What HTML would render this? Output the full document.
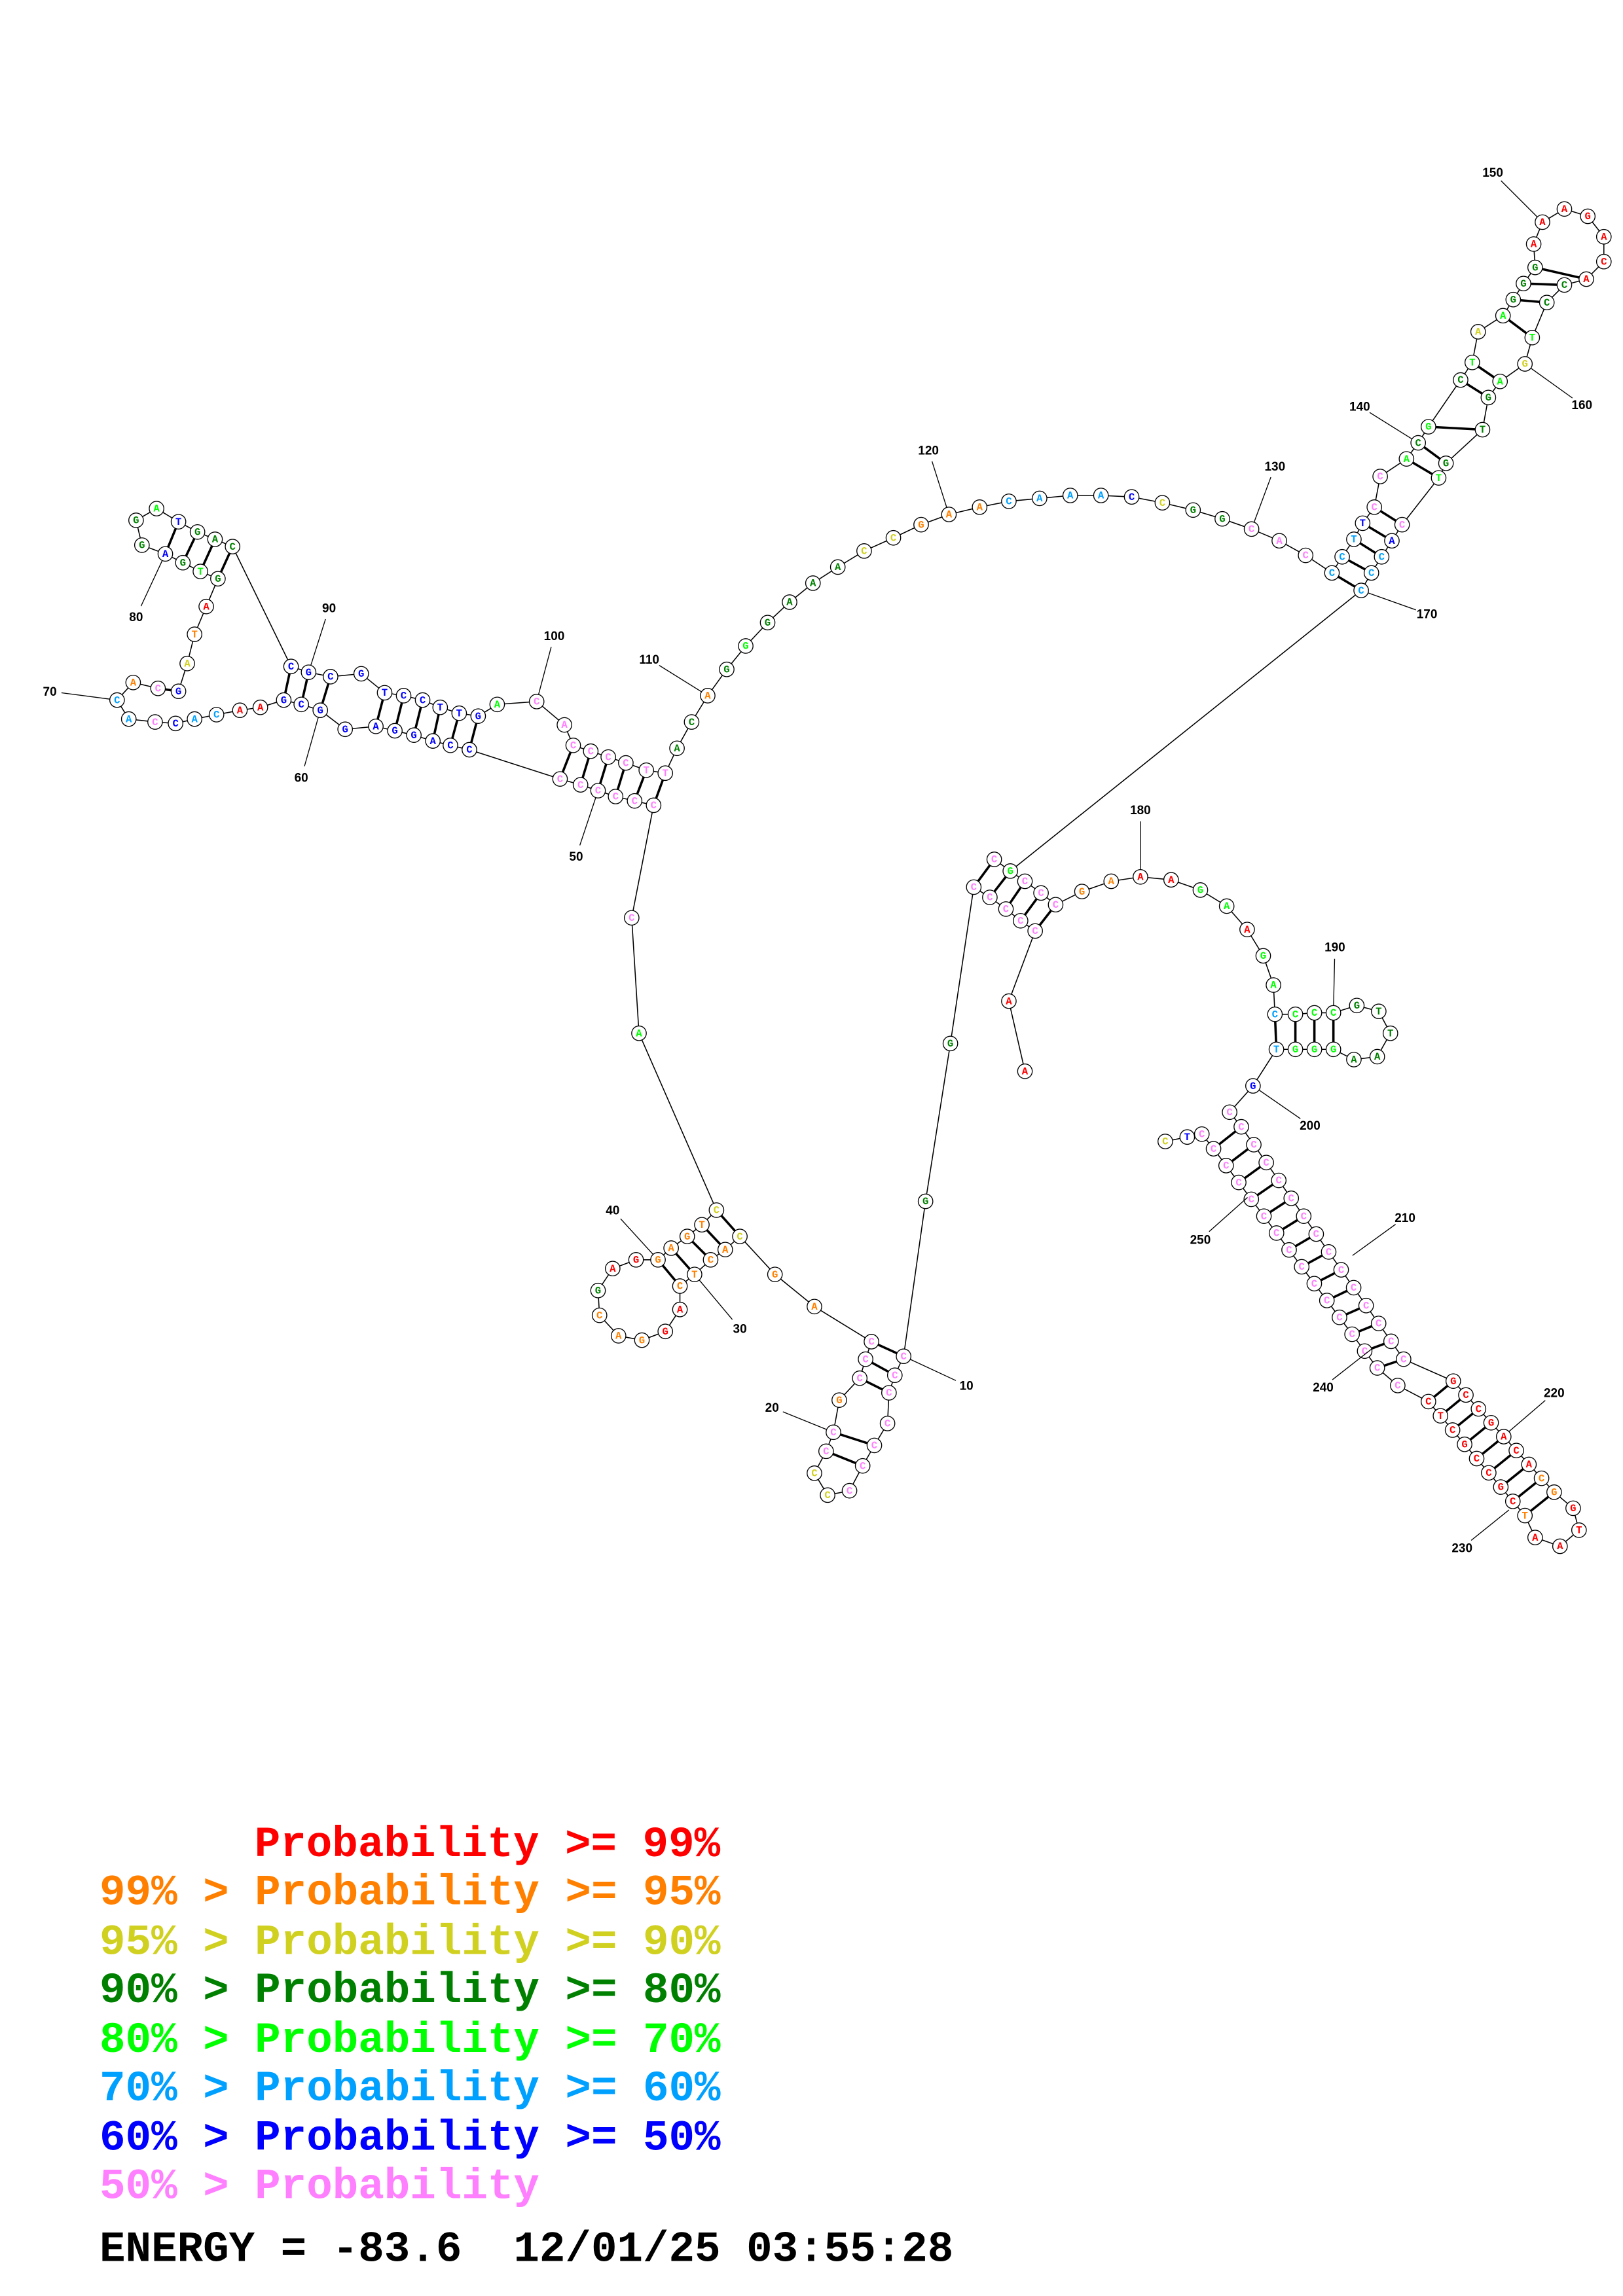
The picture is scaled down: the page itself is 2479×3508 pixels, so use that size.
<!DOCTYPE html>
<html><head><meta charset="utf-8">
<style>
html,body{margin:0;padding:0;background:#fff;}
svg{display:block;}
.n{font-family:"Liberation Mono",monospace;font-weight:bold;font-size:7px;text-anchor:middle;dominant-baseline:central;}
.l{font-family:"Liberation Sans",sans-serif;font-weight:bold;font-size:8.5px;text-anchor:middle;}
.g{font-family:"Liberation Mono",monospace;font-weight:bold;font-size:29.5px;white-space:pre;}
</style></head><body>
<svg id="s" width="2479" height="3508" viewBox="0 0 1110 1571" xmlns="http://www.w3.org/2000/svg">
<g id="bb" stroke="#000" stroke-width="0.7" fill="none"></g>
<g id="bp" stroke="#000" stroke-width="1.6"></g>
<g id="nd"></g>
<g id="lb" stroke="#000" stroke-width="0.6"></g>
<text class="g" x="174" y="1270" fill="#ff0000">Probability &gt;= 99%</text>
<text class="g" x="68" y="1303" fill="#ff8000">99% &gt; Probability &gt;= 95%</text>
<text class="g" x="68" y="1337" fill="#d0d020">95% &gt; Probability &gt;= 90%</text>
<text class="g" x="68" y="1370" fill="#008000">90% &gt; Probability &gt;= 80%</text>
<text class="g" x="68" y="1404" fill="#00ff00">80% &gt; Probability &gt;= 70%</text>
<text class="g" x="68" y="1437" fill="#00a0ff">70% &gt; Probability &gt;= 60%</text>
<text class="g" x="68" y="1471" fill="#0000ff">60% &gt; Probability &gt;= 50%</text>
<text class="g" x="68" y="1504" fill="#ff80ff">50% &gt; Probability</text>
<text class="g" x="68" y="1547" fill="#000" xml:space="preserve">ENERGY = -83.6  12/01/25 03:55:28</text>
</svg>
<script>
var C={r:"#ff0000",o:"#ff8000",y:"#d0d020",d:"#008000",g:"#00ff00",c:"#00a0ff",b:"#0000ff",p:"#ff80ff"};
var NS="http://www.w3.org/2000/svg";
function el(p,t,a,txt){var e=document.createElementNS(NS,t);for(var k in a)e.setAttribute(k,a[k]);if(txt)e.textContent=txt;document.getElementById(p).appendChild(e);return e;}
function lerp(a,b,n){var r=[];for(var i=0;i<n;i++){var t=n==1?0:i/(n-1);r.push([a[0]+(b[0]-a[0])*t,a[1]+(b[1]-a[1])*t]);}return r;}
var groups=[];
function G(pts){groups.push(pts);}
G([[701,733,"A","r"],[690,685,"A","r"],[708,637,"C","p"]]);
var s1L=[[666,607,"C","p"],[677,614,"C","p"],[688,622,"C","p"],[698,630,"C","p"],[708,637,"C","p"]];
var s1U=[[680,588,"C","p"],[691,596,"G","g"],[701,603,"C","p"],[712,611,"C","p"],[722,619,"C","p"]];
G(s1L.slice().reverse());G(s1U);G([[666,607,"C","p"],[680,588]]);
G([[722,619,"C","p"],[740,610,"G","o"],[760,603,"A","o"],[780,600,"A","r"],[801,602,"A","r"],[821,609,"G","g"],[839,620,"A","g"],[853,636,"A","r"],[864,654,"G","g"],[871,674,"A","g"],[872,694,"C","c"],[886,694,"C","g"],[899,693,"C","g"],[912,693,"C","g"],[928,688,"G","d"],[943,692,"T","d"],[951,707,"T","d"],[942,723,"A","d"],[926,725,"A","d"],[912,718,"G","g"],[899,718,"G","g"],[886,718,"G","g"],[873,718,"T","c"],[857,743,"G","b"],[841,761,"C","p"]]);
var hA=lerp([849,771],[960,930],14), hB=lerp([830,786],[942,936],14);
var hC=lerp([994,945],[1063,1021],9), hD=lerp([977,959],[1043,1037],9);
var longA=[[841,761,"C","p"]];hA.forEach(function(p){longA.push([p[0],p[1],"C","p"]);});
hC.forEach(function(p,i){longA.push([p[0],p[1],"GCCGACACG"[i],i<7?"r":"o"]);});
longA=longA.concat([[1076,1032,"G","r"],[1080,1047,"T","r"],[1067,1058,"A","r"],[1050,1052,"A","r"],[1043,1037,"T","o"]]);
G(longA);
var longB=[];for(var i=hD.length-1;i>=0;i--)longB.push([hD[i][0],hD[i][1],"CTCGCCGCT"[i],"r"]);
longB.push([956,948,"C","p"]);for(var i=hB.length-1;i>=0;i--)longB.push([hB[i][0],hB[i][1],"C","p"]);
longB=longB.concat([[822,776,"C","p"],[812,778,"T","b"],[797,781,"C","y"]]);
G(longB);
G([[666,607],[650,714,"G","d"],[633,822,"G","d"],[618,928,"C","p"],[612,941,"C","p"],[608,953,"C","p"],[607,974,"C","p"],[598,989,"C","p"],[590,1003,"C","p"],[581,1020,"C","p"],[566,1023,"C","y"],[557,1008,"C","y"],[565,993,"C","p"],[570,980,"C","p"],[574,958,"G","o"],[588,943,"C","p"],[592,930,"C","p"],[596,918,"C","p"],[557,894,"A","o"],[530,872,"G","o"],[506,846,"C","y"],[496,855,"A","o"],[486,862,"C","o"],[475,872,"T","o"],[465,880,"C","o"],[465,896,"A","r"],[455,911,"G","r"],[439,917,"G","o"],[423,914,"A","o"],[410,900,"C","o"],[409,883,"G","d"],[419,868,"A","r"],[435,862,"G","r"],[450,862,"G","o"],[459,854,"A","o"],[470,846,"G","o"],[480,838,"T","o"],[490,828,"C","y"],[437,707,"A","g"],[432,628,"C","p"],[447,551,"C","p"]]);
var r1=[[383,533,"C","p"],[397,537,"C","p"],[409,541,"C","p"],[421,545,"C","p"],[434,548,"C","p"],[447,551,"C","p"]];
var r2=[[392,510,"C","p"],[404,514,"C","p"],[416,518,"C","p"],[428,522,"C","p"],[442,527,"T","p"],[455,529,"T","p"]];
G(r1.slice().reverse());
G([[321,513],[383,533]]);
G(r2.concat([[463,512,"A","d"],[473,494,"C","d"],[484,476,"A","o"],[497,458,"G","d"],[510,442,"G","g"],[525,426,"G","d"],[540,412,"A","d"],[556,399,"A","d"],[573,388,"A","d"],[591,377,"C","y"],[611,368,"C","y"],[630,359,"G","o"],[649,352,"A","o"],[670,347,"A","o"],[690,343,"C","c"],[711,341,"A","c"],[732,339,"A","c"],[753,339,"A","c"],[774,340,"C","b"],[795,344,"C","y"],[816,349,"G","d"],[836,355,"G","d"],[856,362,"C","p"],[875,370,"A","p"],[893,380,"C","p"],[911,392,"C","c"],[918,381,"C","c"],[926,369,"T","c"],[932,358,"T","b"],[940,347,"C","p"],[944,326,"C","p"],[962,314,"A","g"],[970,303,"C","d"],[977,292,"G","g"],[999,260,"C","d"],[1007,248,"T","g"],[1011,227,"A","y"],[1028,216,"A","g"],[1035,205,"G","d"],[1042,194,"G","d"],[1050,183,"G","d"],[1049,167,"A","r"],[1055,152,"A","r"],[1070,143,"A","r"],[1086,148,"G","r"],[1097,162,"A","r"],[1097,179,"C","r"],[1085,191,"A","r"],[1070,195,"C","d"],[1058,207,"C","d"],[1048,231,"T","g"],[1043,249,"G","y"],[1026,261,"A","g"],[1018,272,"G","d"],[1014,294,"T","d"],[989,317,"G","d"],[984,327,"T","g"],[959,359,"C","p"],[952,370,"A","b"],[945,381,"C","c"],[938,392,"C","c"],[931,404,"C","c"],[691,596]]));
G([[392,510],[386,496,"A","p"],[367,480,"C","p"],[340,482,"A","g"],[327,490,"G","b"],[314,488,"T","b"],[301,484,"T","b"],[289,479,"C","b"],[276,476,"C","b"],[263,474,"T","b"],[247,461,"G","b"],[226,463,"C","b"],[211,460,"G","b"],[199,456,"C","b"],[159,374,"C","d"],[147,369,"A","d"],[135,364,"G","d"],[122,357,"T","b"],[107,348,"A","g"],[93,356,"G","d"],[97,373,"G","d"],[113,379,"A","b"],[125,385,"G","d"],[137,391,"T","g"],[149,396,"G","d"],[141,415,"A","r"],[133,434,"T","o"],[128,454,"A","y"],[122,473,"G","b"],[108,471,"C","p"],[91,467,"A","o"],[80,479,"C","c"],[88,492,"A","c"],[106,494,"C","p"],[120,495,"C","b"],[133,492,"A","c"],[148,489,"C","c"],[164,486,"A","r"],[178,484,"A","r"],[194,479,"G","b"],[206,482,"C","b"],[219,486,"G","b"],[236,499,"G","b"],[257,497,"A","b"],[270,500,"G","b"],[283,503,"G","b"],[296,507,"A","b"],[308,510,"C","b"],[321,513,"C","b"]]);
var pairs=[[[392,510],[383,533]],[[404,514],[397,537]],[[416,518],[409,541]],[[428,522],[421,545]],[[442,527],[434,548]],[[455,529],[447,551]],
[[327,490],[321,513]],[[314,488],[308,510]],[[301,484],[296,507]],[[289,479],[283,503]],[[276,476],[270,500]],[[263,474],[257,497]],[[226,463],[219,486]],[[211,460],[206,482]],[[199,456],[194,479]],
[[122,473],[108,471]],[[159,374],[149,396]],[[147,369],[137,391]],[[135,364],[125,385]],[[122,357],[113,379]],
[[490,828],[506,846]],[[480,838],[496,855]],[[470,846],[486,862]],[[459,854],[475,872]],[[450,862],[465,880]],
[[596,918],[618,928]],[[592,930],[612,941]],[[588,943],[608,953]],[[565,993],[590,1003]],[[570,980],[598,989]],
[[872,694],[873,718]],[[886,694],[886,718]],[[899,693],[899,718]],[[912,693],[912,718]],
[[911,392],[931,404]],[[918,381],[938,392]],[[926,369],[945,381]],[[932,358],[952,370]],[[940,347],[959,359]],
[[962,314],[984,327]],[[970,303],[989,317]],[[977,292],[1014,294]],[[999,260],[1018,272]],[[1007,248],[1026,261]],[[1028,216],[1048,231]],[[1035,205],[1058,207]],[[1042,194],[1070,195]],[[1050,183],[1085,191]]];
for(var i=0;i<5;i++)pairs.push([[s1L[i][0],s1L[i][1]],[s1U[i][0],s1U[i][1]]]);
for(var i=0;i<14;i++)pairs.push([hA[i],hB[i]]);
for(var i=0;i<9;i++)pairs.push([hC[i],hD[i]]);
var seen={};
groups.forEach(function(g){el("bb","polyline",{points:g.map(function(p){return p[0]+","+p[1];}).join(" ")});});
pairs.forEach(function(p){el("bp","line",{x1:p[0][0],y1:p[0][1],x2:p[1][0],y2:p[1][1]});});
groups.forEach(function(g){g.forEach(function(p){if(!p[2])return;var k=Math.round(p[0])+"_"+Math.round(p[1]);if(seen[k])return;seen[k]=1;
el("nd","circle",{cx:p[0],cy:p[1],r:5,fill:"#fff",stroke:"#000","stroke-width":0.6});
el("nd","text",{x:p[0],y:p[1]+0.3,"class":"n",fill:C[p[3]]},p[2]);});});
var labels=[["150",1021,121,1055,152],["160",1082,280,1043,249],["140",930,281,970,303],["120",635,311,649,352],["130",872,322,856,362],["170",976,423,931,404],["110",444,454,484,476],["100",379,438,367,480],["90",225,419,211,460],["80",93,425,113,379],["70",34,476,80,479],["60",206,535,219,486],["50",394,589,409,541],["40",419,831,450,862],["30",506,912,475,872],["20",528,966,570,980],["10",661,951,618,928],["180",780,557,780,600],["190",913,651,912,693],["200",896,773,857,743],["210",961,836,921,862],["250",821,851,857,816],["240",905,952,942,920],["220",1063,956,1028,983],["230",1000,1062,1036,1030]];
labels.forEach(function(l){var dx=l[3]-l[1],dy=l[4]-(l[2]-3),d=Math.sqrt(dx*dx+dy*dy);
el("lb","line",{x1:l[1]+dx/d*8,y1:l[2]-3+dy/d*8,x2:l[3]-dx/d*5,y2:l[4]-dy/d*5});
el("nd","text",{x:l[1],y:l[2],"class":"l",fill:"#000"},l[0]);});
</script>
</body></html>
